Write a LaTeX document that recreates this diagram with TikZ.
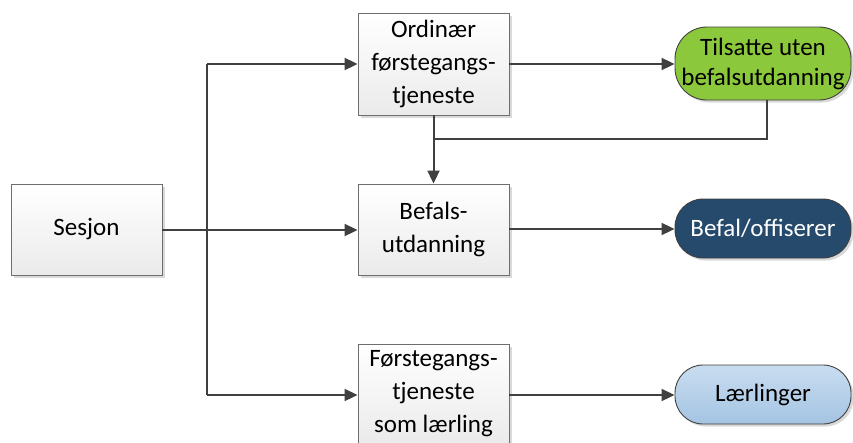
\documentclass[tikz,border=0pt]{standalone}
\usepackage{fontspec}
\setmainfont{Carlito}
\usetikzlibrary{arrows.meta,shadows}
\definecolor{boxline}{HTML}{6E6E6E}
\definecolor{conn}{HTML}{404040}
\definecolor{grn}{HTML}{8CC83C}
\definecolor{navy}{HTML}{254A6C}
\definecolor{lblueA}{HTML}{C9DDF0}
\definecolor{lblueB}{HTML}{A4C4E2}
\tikzset{
  procbox/.style={draw=boxline, line width=0.9pt, top color=white, bottom color=black!8,
    minimum width=151pt, align=center, inner sep=2pt,
    font=\fontsize{25pt}{33pt}\selectfont,
    drop shadow={shadow xshift=2.5pt, shadow yshift=-2.5pt, fill=black!25, opacity=0.6}},
  term/.style={draw=black!75, line width=0.9pt, align=center, inner sep=2pt,
    font=\fontsize{25pt}{30pt}\selectfont,
    drop shadow={shadow xshift=2.5pt, shadow yshift=-2.5pt, fill=black!25, opacity=0.6}},
  conline/.style={draw=conn, line width=2pt},
  conarrow/.style={conline, -{Triangle[length=13pt,width=12pt]}},
}
\begin{document}
\begin{tikzpicture}[x=1pt,y=-1pt]
\useasboundingbox (0,0) rectangle (853,442);
\node[procbox, minimum width=151pt, minimum height=91pt] (ses) at (86.5,229.5) {Sesjon};
\node[procbox, minimum height=102pt] (ord) at (433.5,64) {Ordinær\\førstegangs-\\tjeneste};
\node[procbox, minimum height=91pt] (bef) at (433.5,229.5) {Befals-\\utdanning};
\node[procbox, minimum height=100pt] (lrl) at (433.5,394) {Førstegangs-\\tjeneste\\som lærling};
\node[term, fill=grn, minimum width=176pt, minimum height=73pt, rounded corners=32pt] (til) at (763,63.5) {Tilsatte uten\\befalsutdanning};
\node[term, fill=navy, text=white, minimum width=176pt, minimum height=59pt, rounded corners=28pt] (off) at (763,228.5) {Befal/offiserer};
\node[term, top color=lblueA, bottom color=lblueB, minimum width=176pt, minimum height=59pt, rounded corners=28pt] (lar) at (763,394.5) {Lærlinger};
\coordinate (tt) at (207,64);
\coordinate (tb) at (207,395);
\coordinate (j) at (ord.south |- 0,139);
\draw[conline] (ses.east |- 0,230) -- (207,230);
\draw[conline] (tt) -- (tb);
\draw[conarrow] (tt) -- (ord.west |- tt);
\draw[conarrow] (207,230) -- (bef.west |- 0,230);
\draw[conarrow] (tb) -- (lrl.west |- tb);
\draw[conarrow] (ord.east |- 0,64) -- (til.west |- 0,64);
\draw[conarrow] (bef.east |- 0,229) -- (off.west |- 0,229);
\draw[conarrow] (lrl.east |- 0,395) -- (lar.west |- 0,395);
\draw[conarrow] (ord.south) -- (bef.north);
\draw[conline] (til.south -| 767,0) -- (767,139) -- (j);
\end{tikzpicture}
\end{document}
